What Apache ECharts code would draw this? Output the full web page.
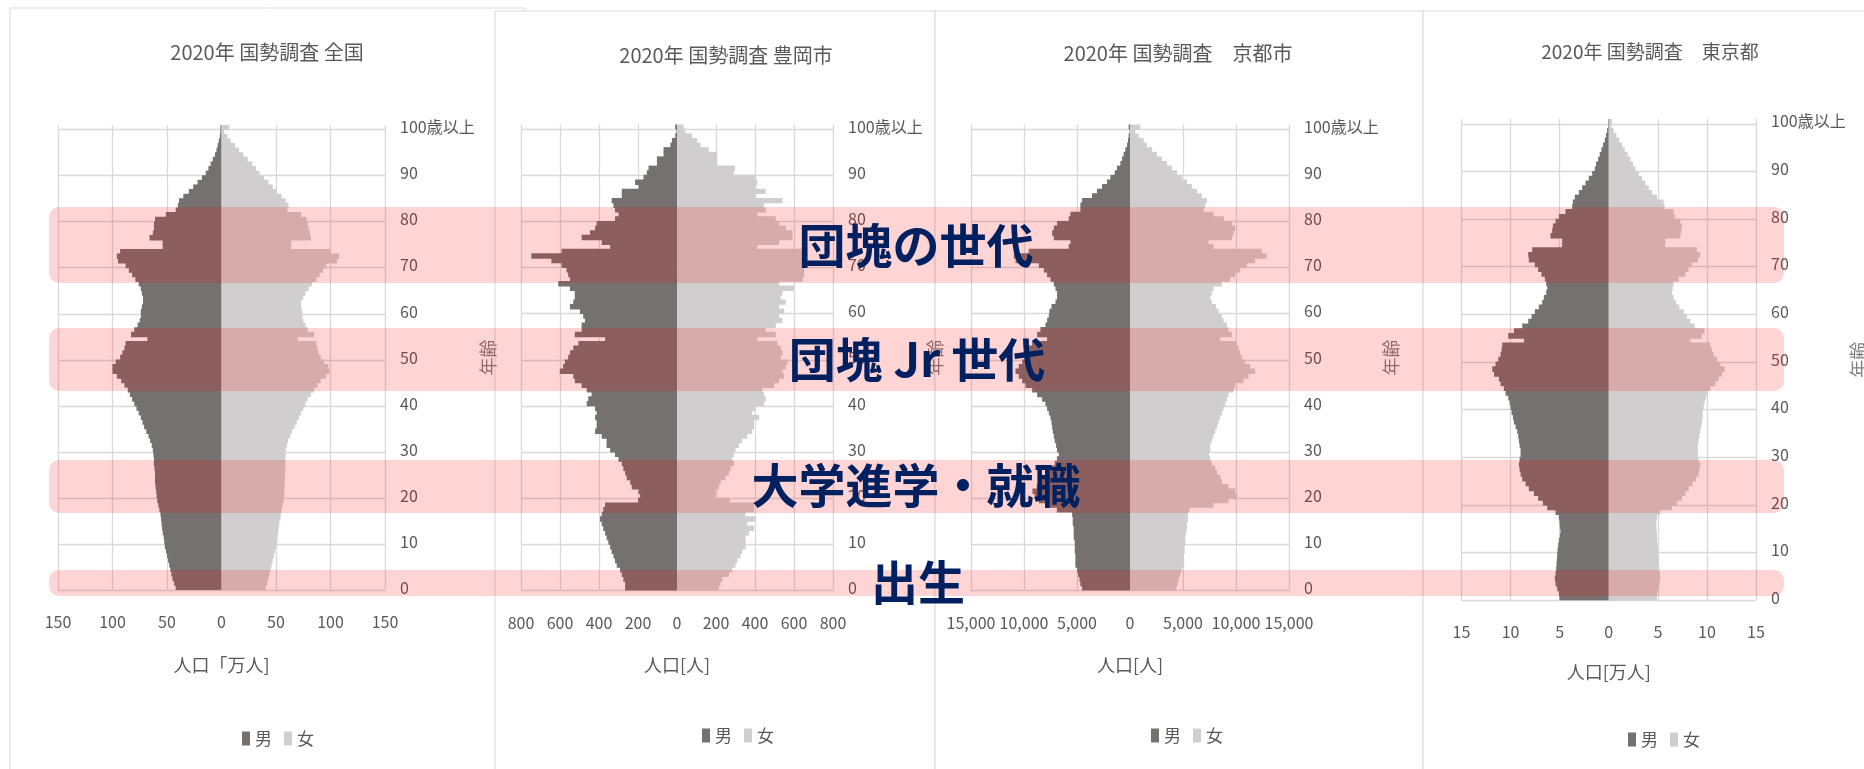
<!DOCTYPE html>
<html lang="ja">
<head>
<meta charset="utf-8">
<title>2020年 国勢調査 人口ピラミッド</title>
<script src="https://cdn.jsdelivr.net/npm/echarts@6/dist/echarts.min.js"></script>
<style>
  html, body { margin: 0; padding: 0; background: #fff; }
  #chart { width: 1864px; height: 769px; }
</style>
</head>
<body>
<div id="chart"></div>
<script>
// 年齢カテゴリ（0〜99歳 + 100歳以上）
const ages = Array.from({ length: 100 }, (_, i) => String(i)).concat(['100歳以上'])

// 全国 [万人]
const zenkokuMale = [
  42, 43.5, 45, 46, 47, 48, 49, 50, 51, 52,
  52.5, 53, 54, 54.5, 55, 55.5, 56, 57, 58, 59,
  59.5, 60, 60.5, 61, 61, 61, 61.5, 62, 62, 62.5,
  63, 64, 65.5, 67, 69, 71, 72.5, 74, 76, 78,
  80, 82, 84, 86, 89, 92, 96, 100, 100, 97,
  93, 91, 89, 88, 68, 83, 80, 77, 75, 74,
  74, 73, 72, 72, 73, 74, 76, 79, 82, 85,
  88, 95, 96, 93, 54, 54, 66, 63, 62, 62,
  61, 51, 42, 40, 39, 35, 30, 26, 22, 18,
  14.5, 12, 10, 8, 6, 4.6, 3.5, 2.5, 1.5, 1,
  1
]
const zenkokuFemale = [
  40.5, 42, 43, 44, 45, 46, 47, 48, 49, 50,
  51, 51.5, 52, 52.5, 53, 54, 54.5, 55, 56, 57,
  57.5, 57.5, 58, 58, 58, 58.5, 58.5, 58.5, 58.5, 59,
  59, 60, 61, 63, 64.5, 67, 69, 71, 73, 75,
  77, 79, 82, 85, 88, 91, 96, 99, 98, 94,
  91, 89, 88, 87, 70, 85, 79, 77, 75, 74,
  74, 73, 73, 75, 77, 80, 83, 87, 90, 93,
  96, 106, 108, 100, 64, 64, 82, 81, 80, 79,
  78, 73, 60.5, 61.5, 59, 55, 50.5, 47, 43, 39,
  35, 31.5, 28, 24, 20, 16, 12.5, 8.5, 5.5, 2.5,
  7
]

// 豊岡市 [人]
const toyookaMale = [
  266, 266, 275, 283, 292, 309, 318, 326, 335, 343,
  352, 361, 369, 378, 386, 395, 386, 378, 369, 200,
  189, 197, 232, 240, 258, 266, 275, 283, 300, 318,
  343, 361, 361, 386, 420, 412, 412, 420, 412, 420,
  463, 455, 438, 463, 489, 524, 532, 601, 584, 575,
  558, 549, 532, 506, 369, 524, 489, 489, 472, 481,
  498, 549, 532, 524, 524, 549, 609, 549, 558, 567,
  592, 644, 747, 592, 343, 386, 489, 446, 420, 412,
  318, 300, 318, 326, 335, 283, 283, 197, 215, 172,
  155, 146, 103, 103, 69, 69, 34, 26, 9, 3,
  9
]
const toyookaFemale = [
  215, 223, 232, 266, 283, 300, 309, 326, 335, 352,
  352, 352, 369, 395, 360, 403, 352, 395, 395, 270,
  197, 197, 215, 223, 249, 266, 275, 292, 283, 292,
  300, 318, 335, 360, 386, 395, 395, 421, 386, 403,
  446, 455, 446, 438, 498, 524, 549, 541, 558, 567,
  532, 541, 532, 515, 412, 506, 455, 506, 541, 524,
  549, 524, 558, 532, 541, 601, 524, 644, 652, 652,
  661, 652, 661, 644, 412, 524, 592, 592, 558, 524,
  506, 412, 455, 446, 541, 403, 455, 403, 412, 403,
  292, 297, 206, 206, 206, 163, 120, 103, 77, 43,
  34
]

// 京都市 [人]
const kyotoMale = [
  4520, 4680, 4770, 4900, 4990, 5150, 5150, 5150, 5210, 5210,
  5210, 5310, 5310, 5310, 5400, 5400, 5460, 6900, 7600, 8600,
  9000, 9200, 8800, 8300, 7900, 7600, 7400, 7100, 6900, 6720,
  6880, 6970, 7100, 7190, 7280, 7350, 7410, 7500, 7660, 7820,
  7980, 8290, 8760, 9230, 9860, 10170, 10490, 10800, 10490, 10170,
  9860, 9700, 9550, 9230, 7820, 8760, 8450, 7980, 7820, 7660,
  7600, 7410, 7030, 6880, 6880, 7030, 7190, 7500, 7820, 8130,
  8600, 10800, 10960, 9550, 5780, 5620, 7190, 7350, 7190, 6880,
  5780, 5620, 4680, 4680, 4520, 3580, 3110, 2640, 2170, 1850,
  1445, 1225, 910, 750, 600, 440, 280, 190, 125, 30,
  125
]
const kyotoFemale = [
  4370, 4490, 4590, 4740, 4900, 5060, 5090, 5090, 5150, 5150,
  5210, 5210, 5270, 5370, 5370, 5460, 5460, 5600, 7880, 9300,
  10080, 9920, 9290, 8670, 8510, 8200, 8040, 7720, 7570, 7470,
  7570, 7570, 7720, 7880, 8040, 8200, 8350, 8510, 8670, 8820,
  8980, 9140, 9290, 9770, 9920, 10710, 11180, 11800, 11340, 10860,
  10550, 10390, 10240, 10080, 8510, 9610, 9290, 9140, 8820, 8670,
  8350, 8100, 7720, 7570, 7720, 7880, 8670, 9450, 9920, 10390,
  11020, 11800, 12900, 12430, 7880, 7410, 9610, 9770, 9920, 9610,
  8850, 7880, 6940, 7100, 7250, 6780, 6310, 5840, 5370, 4900,
  4430, 3960, 3490, 3020, 2540, 2070, 1600, 1290, 815, 500,
  975
]

// 東京都 [万人]
const tokyoMale = [
  5.02, 5.08, 5.25, 5.42, 5.49, 5.42, 5.36, 5.32, 5.29, 5.25,
  5.22, 5.15, 5.08, 4.98, 4.92, 4.98, 5.02, 5.08, 5.42, 6.27,
  6.71, 7.19, 7.63, 8.14, 8.47, 8.81, 8.98, 9.08, 9.15, 9.08,
  8.98, 8.98, 9.08, 9.15, 9.22, 9.32, 9.49, 9.66, 9.76, 9.9,
  10.0, 10.1, 10.24, 10.51, 10.68, 11.02, 11.19, 11.69, 11.86, 11.53,
  11.25, 11.02, 10.92, 10.85, 8.64, 10.24, 9.66, 8.81, 8.2, 7.86,
  7.53, 7.12, 6.78, 6.61, 6.37, 6.27, 6.37, 6.51, 6.85, 7.19,
  7.53, 8.14, 8.2, 7.8, 4.75, 4.75, 5.93, 5.76, 5.69, 5.42,
  5.08, 4.41, 3.73, 3.66, 3.46, 3.05, 2.71, 2.37, 2.03, 1.69,
  1.42, 1.29, 1.08, 0.92, 0.75, 0.58, 0.4, 0.27, 0.17, 0.07,
  0.07
]
const tokyoFemale = [
  4.92, 4.92, 5.02, 5.15, 5.25, 5.22, 5.15, 5.08, 5.05, 5.02,
  5.02, 4.98, 4.95, 4.92, 4.88, 4.85, 4.85, 4.92, 5.25, 6.44,
  6.95, 7.46, 7.8, 8.14, 8.54, 8.88, 9.15, 9.22, 9.32, 9.15,
  9.08, 9.08, 9.08, 9.15, 9.22, 9.32, 9.42, 9.49, 9.56, 9.56,
  9.66, 9.76, 9.9, 10.1, 10.34, 10.85, 11.19, 11.53, 11.8, 11.36,
  11.02, 10.68, 10.51, 10.34, 8.31, 9.49, 9.76, 8.75, 8.31, 7.97,
  7.63, 7.19, 6.85, 6.61, 6.44, 6.51, 6.61, 7.12, 7.8, 8.14,
  8.47, 9.08, 9.32, 8.98, 5.76, 5.76, 7.29, 7.39, 7.46, 7.29,
  6.71, 6.61, 5.69, 5.59, 4.92, 4.41, 4.07, 3.73, 3.39, 3.05,
  2.71, 2.47, 2.2, 1.93, 1.63, 1.36, 1.08, 0.78, 0.5, 0.27,
  0.34
]

const titles = ['2020年 国勢調査 全国', '2020年 国勢調査 豊岡市', '2020年 国勢調査　京都市', '2020年 国勢調査　東京都']
const unitNames = ['人口「万人]', '人口[人]', '人口[人]', '人口[万人]']
const axisMax = [150, 800, 15000, 15]
const axisStep = [50, 200, 5000, 5]
const highlights = ['団塊の世代', '団塊 Jr 世代', '大学進学・就職', '出生']

const FONT = "'Noto Sans CJK JP', 'Noto Sans', sans-serif"
const TEXT = '#595959'
const GRID_LINE = '#D9D9D9'
const MALE = '#767171'
const FEMALE = '#D0CECE'

// 各パネルのレイアウト
const panels = [
  { male: zenkokuMale, female: zenkokuFemale, grid: { left: 58, top: 125, width: 327, height: 465 },
    titleX: 267, titleY: 52, titleSize: 20, nameGap: 94, unitGap: 66, legendX: 237, legendY: 725,
    frame: { x: 10, y: 8, width: 515, height: 800 } },
  { male: toyookaMale, female: toyookaFemale, grid: { left: 521, top: 124.5, width: 312, height: 466 },
    titleX: 726, titleY: 55, titleSize: 20, nameGap: 88, unitGap: 66, legendX: 697, legendY: 722,
    frame: { x: 495, y: 11, width: 440, height: 800 } },
  { male: kyotoMale, female: kyotoFemale, grid: { left: 971, top: 124.5, width: 318, height: 466 },
    titleX: 1178, titleY: 53, titleSize: 20, nameGap: 92, unitGap: 66, legendX: 1146, legendY: 722,
    frame: { x: 935, y: 11, width: 488, height: 800 } },
  { male: tokyoMale, female: tokyoFemale, grid: { left: 1461.5, top: 119, width: 294.5, height: 481.3 },
    titleX: 1650, titleY: 52, titleSize: 19, nameGap: 86, unitGap: 63, legendX: 1623, legendY: 726,
    frame: { x: 1423, y: 11, width: 460, height: 800 } }
]

const fmt = v => Math.abs(v).toLocaleString('en-US')

const chart = echarts.init(document.getElementById('chart'))

const graphics = []
// チャートエリア枠とタイトル
panels.forEach((p, i) => {
  graphics.push({
    type: 'rect', z: -10 + i, silent: true,
    shape: p.frame,
    style: { fill: '#fff', stroke: GRID_LINE, lineWidth: 1 }
  })
  graphics.push({
    type: 'text', z: 5, x: p.titleX, y: p.titleY, silent: true,
    style: { text: titles[i], fill: TEXT, fontSize: p.titleSize, fontFamily: FONT, align: 'center', verticalAlign: 'middle' }
  })
})
// 強調帯
const bands = [[207, 76], [328, 63], [460, 53], [570, 26]]
bands.forEach(([y, h]) => {
  graphics.push({
    type: 'rect', z: 100, silent: true,
    shape: { x: 49, y: y, width: 1735, height: h, r: Math.min(10, h / 2) },
    style: { fill: 'rgba(255, 0, 0, 0.17)' }
  })
})
// 見出し
const labelPos = [[916, 245], [917, 359], [916, 485], [918, 582]]
highlights.forEach((t, i) => {
  graphics.push({
    type: 'text', z: 110, silent: true, x: labelPos[i][0], y: labelPos[i][1],
    style: { text: t, fill: '#002060', fontSize: 47, fontWeight: 'bold', fontFamily: FONT, align: 'center', verticalAlign: 'middle' }
  })
})

const option = {
  animation: false,
  textStyle: { fontFamily: FONT },
  grid: panels.map(p => Object.assign({ outerBoundsMode: 'none', containLabel: false }, p.grid)),
  xAxis: panels.map((p, i) => ({
    type: 'value',
    gridIndex: i,
    min: -axisMax[i],
    max: axisMax[i],
    interval: axisStep[i],
    name: unitNames[i],
    nameLocation: 'middle',
    nameGap: p.unitGap,
    nameTextStyle: { color: TEXT, fontSize: 18, fontFamily: FONT },
    axisLine: { show: false },
    axisTick: { show: false },
    axisLabel: { color: TEXT, fontSize: 16, margin: 24, formatter: fmt, fontFamily: FONT },
    splitLine: { show: true, lineStyle: { color: GRID_LINE, width: 1.3 } }
  })),
  yAxis: panels.map((p, i) => ({
    type: 'category',
    gridIndex: i,
    position: 'right',
    data: ages,
    boundaryGap: true,
    name: '年齢',
    nameLocation: 'middle',
    nameRotate: 90,
    nameGap: p.nameGap,
    nameTextStyle: { color: '#808080', fontSize: 18, fontFamily: FONT },
    axisLine: { show: false },
    axisTick: { show: false },
    axisLabel: { interval: 9, color: TEXT, fontSize: 16, margin: 15, fontFamily: FONT },
    splitLine: { show: true, interval: 9, showMaxLine: false, lineStyle: { color: GRID_LINE, width: 1.3 } }
  })),
  legend: panels.map(p => ({
    data: ['男', '女'],
    left: p.legendX,
    top: p.legendY,
    icon: 'rect',
    itemWidth: 8,
    itemHeight: 14,
    itemGap: 12,
    selectedMode: false,
    textStyle: { color: TEXT, fontSize: 17, fontFamily: FONT }
  })),
  // barWidth を帯幅より少し広げ、隣接バーの間に白い隙間が出ないようにする
  series: panels.flatMap((p, i) => [
    {
      name: '男', type: 'bar', xAxisIndex: i, yAxisIndex: i,
      data: p.male.map(v => -v),
      barGap: '-100%', barWidth: '118%',
      itemStyle: { color: MALE }, silent: true
    },
    {
      name: '女', type: 'bar', xAxisIndex: i, yAxisIndex: i,
      data: p.female,
      barGap: '-100%', barWidth: '118%',
      itemStyle: { color: FEMALE }, silent: true
    }
  ]),
  graphic: { elements: graphics }
}

chart.setOption(option)
window.addEventListener('resize', () => chart.resize())
</script>
</body>
</html>
